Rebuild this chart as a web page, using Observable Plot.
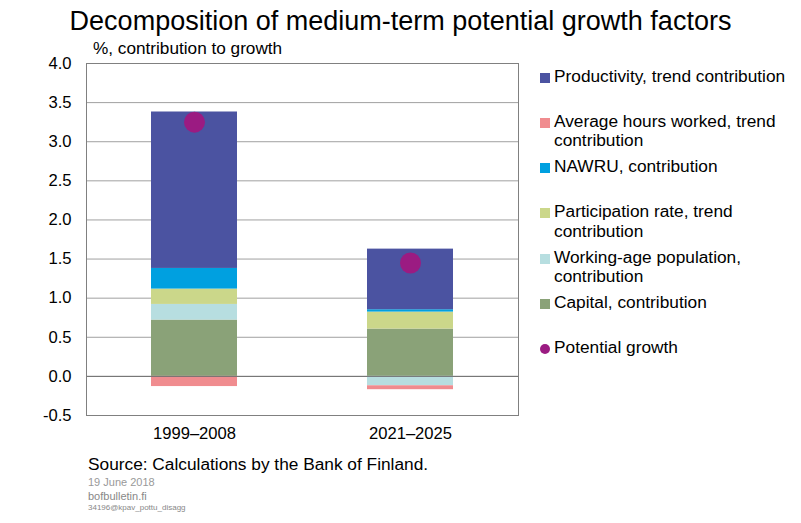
<!DOCTYPE html>
<html>
<head>
<meta charset="utf-8">
<script src="https://cdn.jsdelivr.net/npm/d3@7"></script>
<script src="https://cdn.jsdelivr.net/npm/@observablehq/plot@0.6"></script>
<style>
  html, body { margin: 0; padding: 0; background: #fff; }
  body { font-family: "Liberation Sans", Arial, sans-serif; color: #000; }
  #wrap { position: relative; width: 801px; height: 523px; overflow: hidden; }
  .abs { position: absolute; white-space: nowrap; }
  #title { left: 0; width: 801px; text-align: center; top: 6px; font-size: 27px; }
  #subtitle { left: 93px; top: 38px; font-size: 17.2px; }
  #legend .item { position: absolute; left: 540px; font-size: 17.3px; line-height: 19.3px; }
  #legend .sw { position: absolute; left: 0; top: 6px; width: 10px; height: 10px; }
  #legend .txt { position: absolute; left: 14px; top: 0; width: 245px; white-space: normal; }
  #source { left: 88px; top: 454px; font-size: 17.3px; }
  #date { left: 88px; top: 476px; font-size: 11px; color: #999; }
  #site { left: 88px; top: 490px; font-size: 11px; color: #888; }
  #code { left: 88px; top: 503px; font-size: 8px; color: #888; }
</style>
</head>
<body>
<div id="wrap">
  <div id="chart" class="abs" style="left:0;top:0"></div>
  <div id="title" class="abs">Decomposition of medium-term potential growth factors</div>
  <div id="subtitle" class="abs">%, contribution to growth</div>
  <div id="legend"></div>
  <div id="source" class="abs">Source: Calculations by the Bank of Finland.</div>
  <div id="date" class="abs">19 June 2018</div>
  <div id="site" class="abs">bofbulletin.fi</div>
  <div id="code" class="abs">34196@kpav_pottu_disagg</div>
</div>
<script>
// ---- Data ----
const periods = ["1999–2008", "2021–2025"];
const seriesNames = [
  "Capital, contribution",
  "Working-age population, contribution",
  "Participation rate, trend contribution",
  "NAWRU, contribution",
  "Average hours worked, trend contribution",
  "Productivity, trend contribution"
];
const capital = [0.72, 0.605];
const workingAge = [0.20, -0.12];
const participation = [0.196, 0.217];
const nawru = [0.264, 0.03];
const hours = [-0.13, -0.05];
const productivity = [2.00, 0.775];
const potentialGrowth = [3.25, 1.45];
const yTicks = [-0.5, 0, 0.5, 1, 1.5, 2, 2.5, 3, 3.5, 4];

const seriesColors = ["#8AA278", "#B7DEE0", "#CBD78A", "#00A0E0", "#F08C8F", "#4B53A1"];
const dotColor = "#9B1B82";

// ---- Build table ----
const seriesValues = [capital, workingAge, participation, nawru, hours, productivity];
const rows = [];
seriesNames.forEach((s, si) => {
  periods.forEach((p, pi) => rows.push({period: p, series: s, value: seriesValues[si][pi]}));
});
const dots = periods.map((p, i) => ({period: p, value: potentialGrowth[i]}));

const chart = Plot.plot({
  width: 801,
  height: 523,
  marginLeft: 86,
  marginRight: 283,
  marginTop: 63,
  marginBottom: 108,
  style: {fontFamily: "'Liberation Sans', Arial, sans-serif", fontSize: "16.6px", background: "transparent"},
  x: {domain: periods, paddingInner: 0.6, paddingOuter: 0.3, label: null, tickSize: 0, tickPadding: 12},
  y: {domain: [-0.5, 4], ticks: yTicks, tickFormat: d => d.toFixed(1), label: null, tickSize: 0, tickPadding: 15},
  color: {domain: seriesNames, range: seriesColors},
  marks: [
    Plot.gridY(yTicks, {stroke: "#a0a0a0", strokeOpacity: 1, strokeWidth: 1}),
    Plot.barY(rows, Plot.stackY({x: "period", y: "value", fill: "series", order: seriesNames})),
    Plot.ruleY([0], {stroke: "#707070", strokeWidth: 1}),
    Plot.frame({stroke: "#808080", strokeWidth: 1}),
    Plot.dot(dots, {x: "period", y: "value", r: 10.5, fill: dotColor, stroke: null}),
    Plot.axisY({ticks: yTicks, tickFormat: d => d.toFixed(1), tickSize: 0, tickPadding: 15, label: null}),
    Plot.axisX({tickSize: 0, tickPadding: 12, label: null})
  ]
});
chart.querySelectorAll("text").forEach(t => t.setAttribute("fill", "#000"));
document.getElementById("chart").appendChild(chart);

// ---- Legend ----
const legendOrder = [5, 4, 3, 2, 1, 0];
const legend = document.getElementById("legend");
const top0 = 66.5, step = 45.3;
legendOrder.forEach((si, i) => {
  const item = document.createElement("div");
  item.className = "item";
  item.style.top = (top0 + i * step) + "px";
  item.innerHTML = `<div class="sw" style="background:${seriesColors[si]}"></div><div class="txt">${seriesNames[si]}</div>`;
  legend.appendChild(item);
});
const pg = document.createElement("div");
pg.className = "item";
pg.style.top = (top0 + 6 * step) + "px";
pg.innerHTML = `<div class="sw" style="background:${dotColor};border-radius:50%"></div><div class="txt">Potential growth</div>`;
legend.appendChild(pg);
</script>
</body>
</html>
